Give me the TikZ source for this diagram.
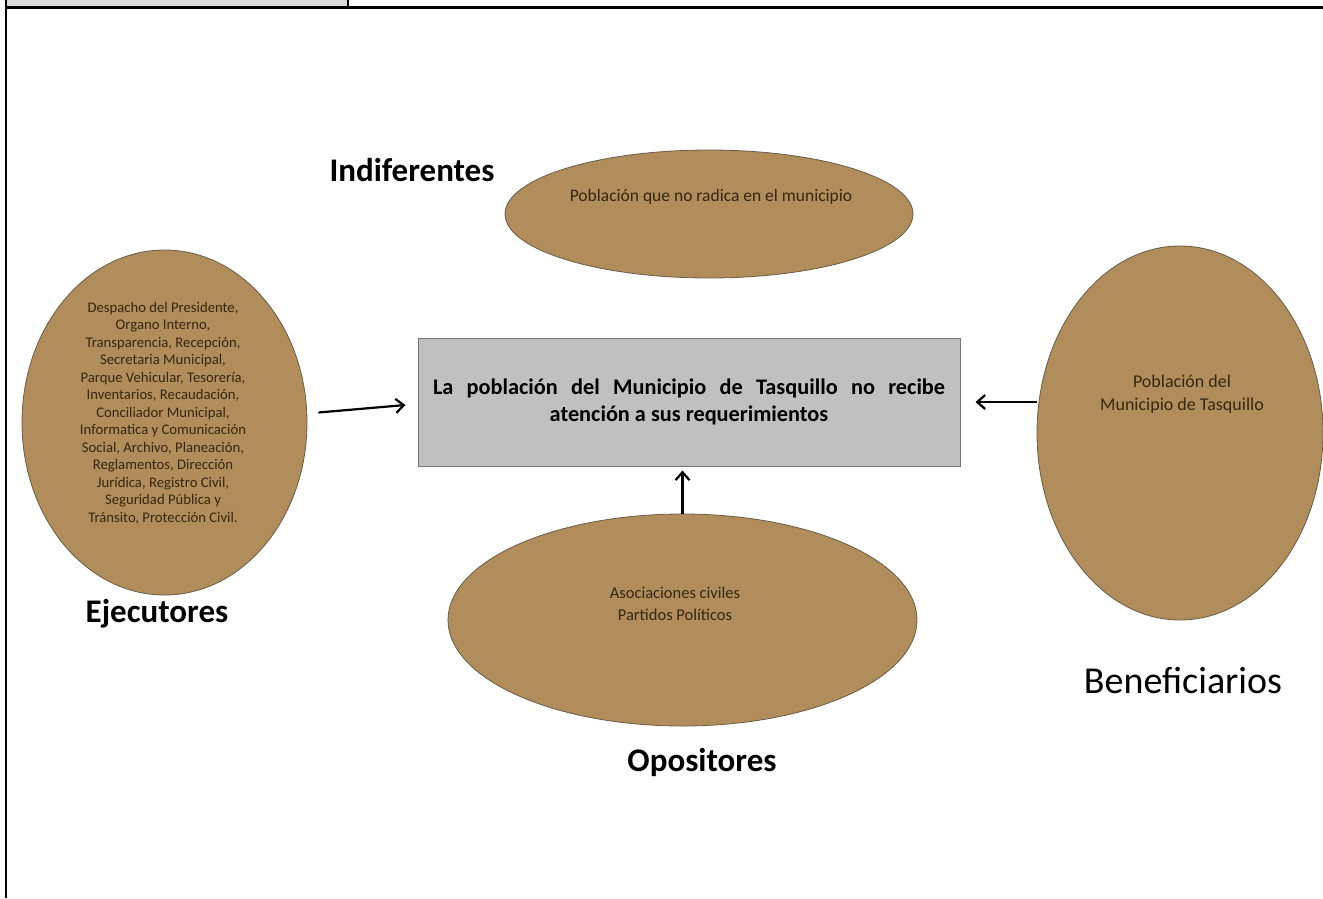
\documentclass[tikz,border=0pt]{standalone}
\usepackage{fontspec}
\setmainfont{Carlito}
\usetikzlibrary{shapes.geometric,arrows.meta}

\definecolor{tierra}{RGB}{176,141,90}
\definecolor{tierraborde}{RGB}{105,92,72}
\definecolor{textotierra}{RGB}{55,38,14}
\definecolor{griscaja}{RGB}{192,192,192}
\definecolor{grisborde}{RGB}{118,118,118}
\definecolor{griscelda}{RGB}{217,217,217}

\tikzset{
  actor/.style={ellipse,draw=tierraborde,fill=tierra,line width=0.8pt,inner sep=0pt},
  nota/.style={text=textotierra,align=center},
  problema/.style={rectangle,draw=grisborde,fill=griscaja,line width=1pt,inner sep=0pt,align=center,
    font=\fontsize{22.3}{27}\selectfont\bfseries},
  rotulo/.style={font=\fontsize{33}{40}\selectfont\bfseries,anchor=base},
  flecha/.style={-{Straight Barb[length=8pt,width=14pt,line width=2.2pt]},line width=2.2pt},
}

\begin{document}
\begin{tikzpicture}[x=1pt,y=-1pt]
  \useasboundingbox (0,0) rectangle (1323,898);
  % marco de la tabla
  \fill[griscelda] (6,0) rectangle (348,7);
  \draw[line width=2.5pt] (348,0) -- (348,7.5);
  \draw[line width=2.5pt] (6,0) -- (6,898);
  \draw[line width=2.5pt] (6,7.5) -- (1323,7.5);

  % grupos de actores
  \node[actor,minimum width=408pt,minimum height=128pt] (indif) at (709,214) {};
  \node[actor,minimum width=285pt,minimum height=345pt] (ejec) at (164.5,422.5) {};
  \node[actor,minimum width=286pt,minimum height=374pt] (benef) at (1180,433) {};
  \node[actor,minimum width=469pt,minimum height=212pt] (opos) at (682.5,620) {};

  \node[nota,anchor=base,font=\fontsize{17.5}{21}\selectfont] (indiftxt) at (711,201)
    {Población que no radica en el municipio};
  \node[nota,font=\fontsize{14.7}{17.5}\selectfont] (ejectxt) at (163,413)
    {Despacho del Presidente,\\ Organo Interno,\\ Transparencia, Recepción,\\
     Secretaria Municipal,\\ Parque Vehicular, Tesorería,\\ Inventarios, Recaudación,\\
     Conciliador Municipal,\\ Informatica y Comunicación\\ Social, Archivo, Planeación,\\
     Reglamentos, Dirección\\ Jurídica, Registro Civil,\\ Seguridad Pública y\\
     Tránsito, Protección Civil.};
  \node[nota,anchor=base,font=\fontsize{18}{23}\selectfont] (beneftxt) at (1182,410)
    {Población del\\ Municipio de Tasquillo};
  \node[nota,anchor=base,font=\fontsize{16.5}{21.5}\selectfont] (opostxt) at (675,620)
    {Asociaciones civiles\\ Partidos Políticos};

  % problema central
  \node[problema,minimum width=542pt,minimum height=128pt] (problema) at (689,402)
    {\makebox[512pt][s]{La población del Municipio de Tasquillo no recibe}\\ atención a sus requerimientos};

  % rotulos
  \node[rotulo] (lindif) at (412,181) {Indiferentes};
  \node[rotulo] (lejec) at (157,622) {Ejecutores};
  \node[rotulo] (lopos) at (702,771) {Opositores};
  \node[rotulo,font=\fontsize{38}{46}\selectfont] (lbenef) at (1183,693) {Beneficiarios};

  % flechas
  \draw[flecha] ([shift={(11,-10)}]ejec.east) -- ([shift={(-12,3)}]problema.west);
  \draw[flecha] (benef.west |- problema.east) -- ([xshift=15pt]problema.east);
  \draw[flecha,shorten >=4pt] (opos.north) -- (opos.north |- problema.south);
\end{tikzpicture}
\end{document}
